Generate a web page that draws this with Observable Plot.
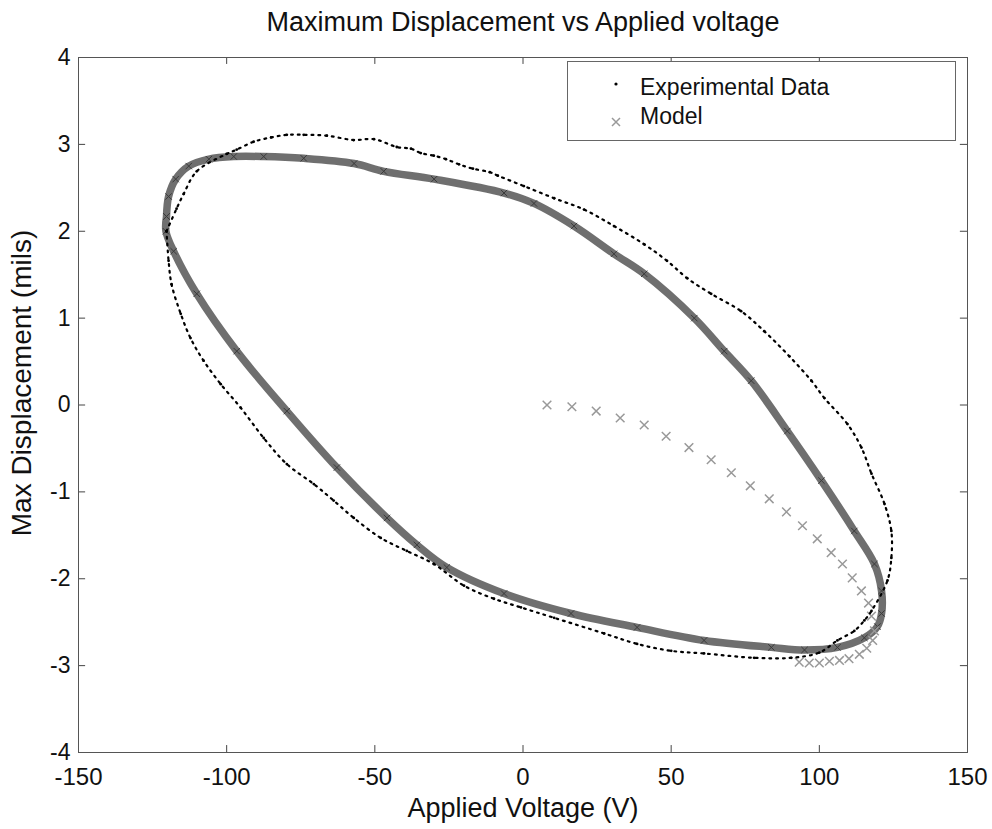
<!DOCTYPE html>
<html>
<head>
<meta charset="utf-8">
<script src="https://cdn.jsdelivr.net/npm/d3@7"></script>
<script src="https://cdn.jsdelivr.net/npm/@observablehq/plot@0.6"></script>
<style>
  html, body { margin: 0; padding: 0; background: #fff; }
  #wrap { position: relative; width: 992px; height: 829px; font-family: "Liberation Sans", Arial, sans-serif; }
  #legend { position: absolute; left: 567px; top: 61px; width: 389px; height: 80px; border: 1.5px solid #666; background: #fff; box-sizing: border-box; }
  .lrow { position: absolute; left: 0; font-size: 23px; color: #111; white-space: nowrap; }
  .lrow svg { position: absolute; left: 40px; }
  .lrow span { position: absolute; left: 72px; }
</style>
</head>
<body>
<div id="wrap">
  <div id="chart"></div>
  <div id="legend">
    <div class="lrow" style="top:12px">
      <svg width="16" height="16" style="top:2px"><circle cx="8" cy="8" r="1.6" fill="#000"/></svg>
      <span>Experimental Data</span>
    </div>
    <div class="lrow" style="top:41px">
      <svg width="16" height="16" style="top:11px"><path d="M4,4L12,12M12,4L4,12" stroke="#999" stroke-width="1.5"/></svg>
      <span>Model</span>
    </div>
  </div>
</div>
<script>
// Tick values
const xTicks = [-150, -100, -50, 0, 50, 100, 150];
const yTicks = [-4, -3, -2, -1, 0, 1, 2, 3, 4];

// Model hysteresis loop (Applied voltage V, displacement mils)
const modelV = [-120.3, -119.6, -117.2, -112.8, -106, -97.6, -87.5, -74, -57, -47, -30, -6.4, 3.7, 17.2, 30.7, 40.9, 57.8, 67.9, 77, 89.2, 100.7, 111.8, 118.6, 121, 121, 119.6, 115.2, 106.1, 95, 83.8, 61.1, 38.5, 16.2, -6.4, -25.7, -35.8, -45.9, -62.8, -79.7, -96.6, -110.1, -117.9, -120.5, -120.3];
const modelD = [2.17, 2.40, 2.60, 2.75, 2.83, 2.86, 2.86, 2.84, 2.78, 2.69, 2.60, 2.44, 2.32, 2.06, 1.74, 1.51, 1.00, 0.62, 0.28, -0.30, -0.87, -1.45, -1.83, -2.14, -2.40, -2.55, -2.68, -2.79, -2.82, -2.79, -2.71, -2.56, -2.40, -2.17, -1.87, -1.61, -1.30, -0.72, -0.07, 0.62, 1.28, 1.77, 2.00, 2.17];

// Model initial loading curve
const initV = [8.1, 16.5, 24.7, 32.8, 40.9, 48.3, 56, 63.5, 70.3, 76.7, 83.1, 88.9, 94.3, 99.3, 104, 107.8, 111.1, 114.2, 116.6, 117.6, 118.6, 118, 116, 113.5, 110, 106.8, 103.4, 100, 96.6, 93.2];
const initD = [0.0, -0.02, -0.07, -0.15, -0.23, -0.36, -0.49, -0.63, -0.78, -0.93, -1.08, -1.23, -1.39, -1.54, -1.70, -1.83, -1.99, -2.14, -2.28, -2.43, -2.60, -2.71, -2.80, -2.87, -2.92, -2.94, -2.95, -2.97, -2.97, -2.96];

// Experimental data
const expV = [-120.3, -116.9, -114.5, -110.1, -100, -96.6, -90.9, -85, -79.7, -74, -66.2, -57.1, -50.3, -42.6, -37.8, -34.5, -30.1, -26.0, -21.6, -16.9, -11.2, -8.5, 0.3, 10.5, 20.6, 30.7, 40.9, 48.6, 55.4, 63.5, 73.6, 81.4, 89.9, 97.3, 101.7, 109.5, 114.2, 117.6, 122, 124.3, 124.3, 123, 117.6, 115.2, 111.8, 106.1, 100, 90.5, 78, 61.1, 50, 38.5, 27.4, 10.5, -0.7, -9.8, -19.9, -30.1, -39.2, -48, -57.1, -63.9, -70.6, -79.7, -87.5, -95.3, -102, -107.8, -112.2, -115.5, -118.6, -119.6, -120.3];
const expD = [2.00, 2.26, 2.43, 2.69, 2.89, 2.94, 3.03, 3.08, 3.11, 3.11, 3.10, 3.05, 3.06, 2.97, 2.95, 2.90, 2.87, 2.83, 2.77, 2.72, 2.68, 2.64, 2.52, 2.38, 2.25, 2.06, 1.85, 1.66, 1.46, 1.28, 1.08, 0.85, 0.56, 0.28, 0.08, -0.22, -0.49, -0.79, -1.14, -1.45, -1.76, -2.02, -2.37, -2.48, -2.60, -2.71, -2.85, -2.91, -2.91, -2.86, -2.83, -2.75, -2.63, -2.45, -2.33, -2.23, -2.08, -1.83, -1.68, -1.53, -1.30, -1.10, -0.91, -0.68, -0.38, -0.03, 0.24, 0.51, 0.77, 1.05, 1.39, 1.66, 2.00];

const model = modelV.map((v, i) => ({v, d: modelD[i]}));
const init = initV.map((v, i) => ({v, d: initD[i]}));
const exp = expV.map((v, i) => ({v, d: expD[i]}));

const fmt = d => String(d);
const tickLenX = 0.08; // in y units
const tickLenY = 2.4;  // in x units

const chart = Plot.plot({
  width: 992,
  height: 829,
  marginTop: 57,
  marginBottom: 77,
  marginLeft: 78,
  marginRight: 25,
  x: {domain: [-150, 150]},
  y: {domain: [-4, 4]},
  style: {fontFamily: "Liberation Sans, Arial, sans-serif", fontSize: "23px", color: "#111", background: "#fff"},
  marks: [
    Plot.ruleX(xTicks, {x: d => d, y1: -4, y2: -4 + tickLenX, stroke: "#444"}),
    Plot.ruleX(xTicks, {x: d => d, y1: 4, y2: 4 - tickLenX, stroke: "#444"}),
    Plot.ruleY(yTicks, {y: d => d, x1: -150, x2: -150 + tickLenY, stroke: "#444"}),
    Plot.ruleY(yTicks, {y: d => d, x1: 150, x2: 150 - tickLenY, stroke: "#444"}),
    Plot.axisX(xTicks, {tickSize: 0, tickPadding: 15, tickFormat: fmt, label: null, fontSize: 24}),
    Plot.axisY(yTicks, {tickSize: 0, tickPadding: 8, tickFormat: fmt, label: null, fontSize: 23}),
    Plot.line(model, {x: "v", y: "d", curve: "catmull-rom", stroke: "#5f5f5f", strokeWidth: 7.5, strokeOpacity: 0.9}),
    Plot.dot(model, {x: "v", y: "d", symbol: "times", r: 3, stroke: "#3a3a3a", strokeWidth: 1}),
    Plot.dot(init, {x: "v", y: "d", symbol: "times", r: 4, stroke: "#999", strokeWidth: 1.5}),
    Plot.line(exp, {x: "v", y: "d", curve: "catmull-rom", stroke: "#000", strokeWidth: 2.2, strokeDasharray: "1.8 5"}),
    Plot.dot(exp, {x: "v", y: "d", r: 1.4, fill: "#000"}),
    Plot.frame({stroke: "#555"}),
    Plot.text(["Maximum Displacement vs Applied voltage"], {frameAnchor: "top", dy: -35, lineAnchor: "middle", fontSize: 27}),
    Plot.text(["Applied Voltage (V)"], {frameAnchor: "bottom", dy: 56, lineAnchor: "middle", fontSize: 27}),
    Plot.text(["Max Displacement (mils)"], {frameAnchor: "left", textAnchor: "middle", dx: -56, dy: -22, rotate: -90, lineAnchor: "middle", fontSize: 28})
  ]
});
document.getElementById("chart").appendChild(chart);
</script>
</body>
</html>
